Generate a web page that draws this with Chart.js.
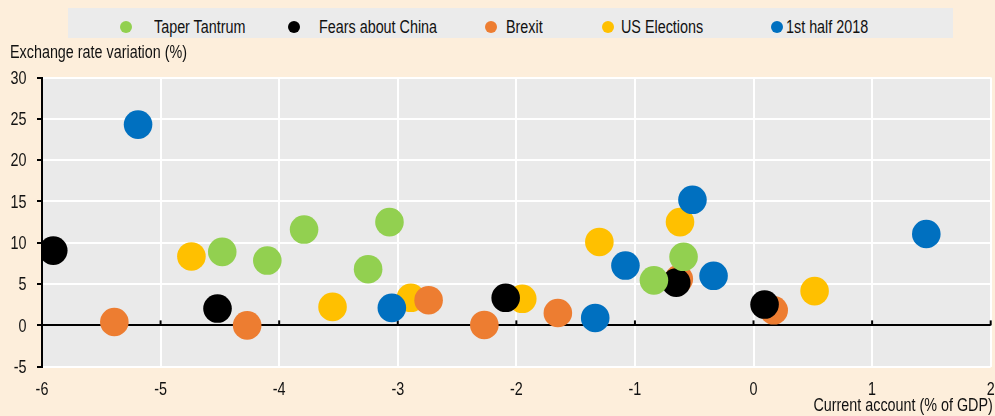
<!DOCTYPE html>
<html>
<head>
<meta charset="utf-8">
<script src="https://cdn.jsdelivr.net/npm/chart.js@4/dist/chart.umd.min.js"></script>
<style>
  body { margin: 0; background: #fdeedb; }
  #wrap { position: relative; width: 995px; height: 416px; font-family: 'Liberation Sans', Arial, sans-serif; color: #111; }
  #c { position: absolute; left: 0; top: 0; }
  #legend { position: absolute; left: 68px; top: 8px; width: 885px; height: 30px; background: #ebebeb; }
  .dot { position: absolute; width: 12px; height: 12px; border-radius: 50%; top: 13px; }
  .lbl { position: absolute; top: 9px; font-size: 17.5px; line-height: 20px; white-space: nowrap; transform: scaleX(0.82); transform-origin: left center; }
  .ttl { position: absolute; font-size: 17.5px; line-height: 20px; white-space: nowrap; transform: scaleX(0.82); }
</style>
</head>
<body>
<div id="wrap">
  <canvas id="c" width="995" height="416"></canvas>
  <div id="legend"></div>
  <div class="ttl" style="left:10px; top:42px; transform-origin: left center">Exchange rate variation (%)</div>
  <div class="ttl" style="right:2px; top:395px; transform-origin: right center">Current account (% of GDP)</div>
</div>
<script>
// series names and colours
const seriesNames = ['Taper Tantrum', 'Fears about China', 'Brexit', 'US Elections', '1st half 2018']
const seriesColors = ['#92d050', '#000000', '#ed7d31', '#ffc000', '#0070c0']

// current account (% of GDP) / exchange rate variation (%)
const taperX = [-4.48, -4.10, -3.79, -3.25, -3.07, -0.84, -0.59]
const taperY = [8.9, 7.85, 11.6, 6.8, 12.5, 5.45, 8.3]
const chinaX = [-5.905, -4.52, -2.09, -0.652, 0.093]
const chinaY = [9.05, 2.04, 3.34, 5.17, 2.52]
const brexitX = [-5.39, -4.27, -2.74, -2.27, -1.65, -0.63, 0.17]
const brexitY = [0.41, 0.0, 3.05, 0.05, 1.5, 5.6, 1.83]
const electX = [-4.74, -3.55, -2.89, -1.95, -1.30, -0.62, 0.515]
const electY = [8.34, 2.24, 3.34, 3.22, 10.1, 12.5, 4.15]
const h2018X = [-5.19, -3.05, -1.335, -1.08, -0.515, -0.337, 1.457]
const h2018Y = [24.3, 2.12, 0.9, 7.24, 15.2, 6.0, 11.06]

const xTicks = [-6, -5, -4, -3, -2, -1, 0, 1, 2]
const yTicks = [-5, 0, 5, 10, 15, 20, 25, 30]

// legend placement (dot centre, label left)
const legendDotX = [125.7, 293.8, 490.5, 607.9, 777.3]
const legendTextX = [154.3, 319.2, 505.7, 620.6, 785.5]

const FONT = "17.5px 'Liberation Sans', Arial, sans-serif"
const NARROW = 0.82 // fake Arial Narrow

function buildLegend() {
  const box = document.getElementById('legend')
  seriesNames.forEach((name, i) => {
    const d = document.createElement('div')
    d.className = 'dot'
    d.style.left = (legendDotX[i] - 68 - 6) + 'px'
    d.style.background = seriesColors[i]
    box.appendChild(d)
    const t = document.createElement('div')
    t.className = 'lbl'
    t.style.left = (legendTextX[i] - 68) + 'px'
    t.textContent = name
    box.appendChild(t)
  })
}

const pairs = (xs, ys) => xs.map((x, i) => ({ x: x, y: ys[i] }))
const seriesData = [
  pairs(taperX, taperY),
  pairs(chinaX, chinaY),
  pairs(brexitX, brexitY),
  pairs(electX, electY),
  pairs(h2018X, h2018Y)
]
// lower order is drawn on top
const drawOrder = [1, 2, 3, 5, 4]

const plotBg = {
  id: 'plotBg',
  beforeDraw(chart) {
    const { ctx, chartArea: a } = chart
    ctx.save()
    ctx.fillStyle = '#eaeaea'
    ctx.fillRect(a.left, a.top, a.right - a.left, a.bottom - a.top)
    ctx.restore()
  }
}

// small upward ticks on the zero line
const zeroTicks = {
  id: 'zeroTicks',
  beforeDatasetsDraw(chart) {
    const { ctx, scales: { x, y } } = chart
    const y0 = y.getPixelForValue(0)
    ctx.save()
    ctx.strokeStyle = '#000'
    ctx.lineWidth = 2
    xTicks.forEach(v => {
      const px = x.getPixelForValue(v)
      ctx.beginPath()
      ctx.moveTo(px, y0)
      ctx.lineTo(px, y0 - 5)
      ctx.stroke()
    })
    ctx.restore()
  }
}

// tick labels in a squeezed font
const narrowLabels = {
  id: 'narrowLabels',
  afterDraw(chart) {
    const { ctx, scales: { x, y } } = chart
    ctx.save()
    ctx.font = FONT
    ctx.fillStyle = '#111'
    ctx.textBaseline = 'alphabetic'
    yTicks.forEach(v => {
      ctx.save()
      ctx.translate(26.5, y.getPixelForValue(v) + 6.2)
      ctx.scale(NARROW, 1)
      ctx.textAlign = 'right'
      ctx.fillText(String(v), 0, 0)
      ctx.restore()
    })
    xTicks.forEach(v => {
      ctx.save()
      ctx.translate(x.getPixelForValue(v), 395)
      ctx.scale(NARROW, 1)
      ctx.textAlign = 'center'
      ctx.fillText(String(v), 0, 0)
      ctx.restore()
    })
    ctx.restore()
  }
}

document.addEventListener('DOMContentLoaded', () => {
  buildLegend()
  new Chart(document.getElementById('c'), {
    type: 'scatter',
    data: {
      datasets: seriesData.map((d, i) => ({
        label: seriesNames[i],
        data: d,
        backgroundColor: seriesColors[i],
        borderWidth: 0,
        pointRadius: 14.3,
        pointHoverRadius: 14.3,
        order: drawOrder[i]
      }))
    },
    options: {
      responsive: false,
      animation: false,
      devicePixelRatio: 1,
      layout: { autoPadding: false, padding: { top: 77.5, right: 4.3, left: 0, bottom: 0 } },
      plugins: { legend: { display: false }, tooltip: { enabled: false } },
      scales: {
        x: {
          type: 'linear',
          min: -6,
          max: 2,
          afterBuildTicks: s => { s.ticks = xTicks.map(v => ({ value: v })) },
          afterFit: s => { s.height = 49.3; s.paddingLeft = 0; s.paddingRight = 0 },
          grid: { color: '#ffffff', lineWidth: 2, drawTicks: false },
          border: { display: false },
          ticks: { display: false }
        },
        y: {
          type: 'linear',
          min: -5,
          max: 30,
          afterBuildTicks: s => { s.ticks = yTicks.map(v => ({ value: v })) },
          afterFit: s => { s.width = 42; s.paddingTop = 0; s.paddingBottom = 0 },
          grid: {
            color: c => (c.tick && c.tick.value === 0 ? '#000000' : '#ffffff'),
            lineWidth: 2,
            drawTicks: true,
            tickLength: 5,
            tickColor: '#000000'
          },
          border: { display: true, color: '#000000', width: 2 },
          ticks: { display: false }
        }
      }
    },
    plugins: [plotBg, zeroTicks, narrowLabels]
  })
})
</script>
</body>
</html>
